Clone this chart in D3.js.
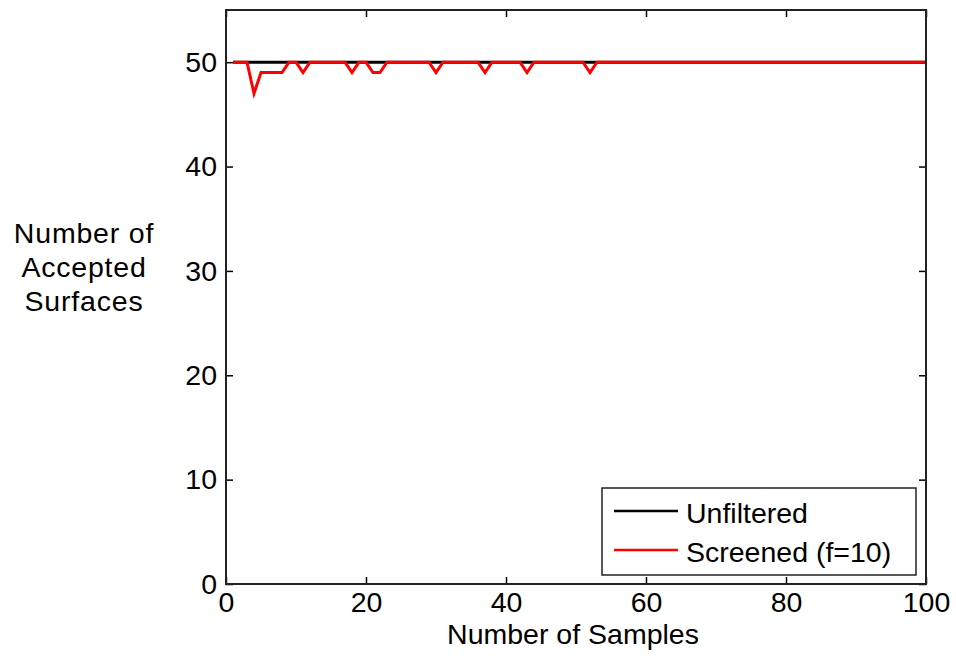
<!DOCTYPE html>
<html>
<head>
<meta charset="utf-8">
<script src="https://cdn.jsdelivr.net/npm/d3@7"></script>
<style>
  body { margin: 0; background: #fff; }
  text { font-family: "Liberation Sans", Arial, sans-serif; fill: #000; }
</style>
</head>
<body>
<div id="chart"></div>
<script>
// samples 1..100
const samples = d3.range(1, 101);
const unfiltered = samples.map(() => 50);
// screened: 50 everywhere except a few dips
const screenedDips = [
  {x: 4, v: 47}, {x: 5, v: 49}, {x: 6, v: 49}, {x: 7, v: 49}, {x: 8, v: 49},
  {x: 11, v: 49}, {x: 18, v: 49}, {x: 21, v: 49}, {x: 22, v: 49},
  {x: 30, v: 49}, {x: 37, v: 49}, {x: 43, v: 49}, {x: 52, v: 49}
];
const screened = samples.map(s => {
  const d = screenedDips.find(p => p.x === s);
  return d ? d.v : 50;
});
const xTicks = [0, 20, 40, 60, 80, 100];
const yTicks = [0, 10, 20, 30, 40, 50];
const seriesNames = ["Unfiltered", "Screened (f=10)"];
const seriesColors = ["#000000", "#ff0000"];

const W = 956, H = 659;
const m = {left: 226, right: 30, top: 10, bottom: 75};

const svg = d3.select('#chart').append('svg')
  .attr('width', W).attr('height', H);

const x = d3.scaleLinear().domain([0, 100]).range([m.left, W - m.right]);
const y = d3.scaleLinear().domain([0, 55]).range([H - m.bottom, m.top]);

const fs = 28.5;
const tickLen = 7;

// axes: inward ticks on all four sides
svg.append('g')
  .attr('transform', `translate(0,${y(0)})`)
  .call(d3.axisBottom(x).tickValues(xTicks).tickSizeInner(-tickLen).tickSizeOuter(0).tickPadding(8))
  .call(g => g.select('.domain').remove())
  .call(g => g.selectAll('text').attr('font-size', fs).attr('font-family', 'Liberation Sans, Arial, sans-serif'));

svg.append('g')
  .attr('transform', `translate(0,${y(55)})`)
  .call(d3.axisTop(x).tickValues(xTicks).tickSizeInner(-tickLen).tickSizeOuter(0).tickFormat(''))
  .call(g => g.select('.domain').remove());

svg.append('g')
  .attr('transform', `translate(${x(0)},0)`)
  .call(d3.axisLeft(y).tickValues(yTicks).tickSizeInner(-tickLen).tickSizeOuter(0).tickPadding(9))
  .call(g => g.select('.domain').remove())
  .call(g => g.selectAll('text').attr('font-size', fs).attr('font-family', 'Liberation Sans, Arial, sans-serif'));

svg.append('g')
  .attr('transform', `translate(${x(100)},0)`)
  .call(d3.axisRight(y).tickValues(yTicks).tickSizeInner(-tickLen).tickSizeOuter(0).tickFormat(''))
  .call(g => g.select('.domain').remove());

svg.selectAll('.tick line').attr('stroke', '#000').attr('stroke-width', 1.5);

// lines
const line = d3.line().x((d, i) => x(samples[i])).y(d => y(d));
[unfiltered, screened].forEach((s, i) => {
  svg.append('path')
    .datum(s)
    .attr('d', line)
    .attr('fill', 'none')
    .attr('stroke', seriesColors[i])
    .attr('stroke-width', 3)
    .attr('stroke-linejoin', 'miter');
});

// frame
svg.append('rect')
  .attr('x', x(0)).attr('y', y(55))
  .attr('width', x(100) - x(0)).attr('height', y(0) - y(55))
  .attr('fill', 'none').attr('stroke', '#222').attr('stroke-width', 2);

// axis labels
svg.append('text')
  .attr('x', (x(0) + x(100)) / 2 - 3).attr('y', 644)
  .attr('text-anchor', 'middle').attr('font-size', fs)
  .text('Number of Samples');

const ylab = ['Number of', 'Accepted', 'Surfaces'];
svg.append('g').selectAll('text').data(ylab).enter().append('text')
  .attr('x', 84).attr('y', (d, i) => 243 + i * 34)
  .attr('text-anchor', 'middle').attr('font-size', fs)
  .attr('letter-spacing', 0.8)
  .text(d => d);

// legend
const lg = svg.append('g');
lg.append('rect')
  .attr('x', 602).attr('y', 488).attr('width', 314).attr('height', 87)
  .attr('fill', '#fff').attr('stroke', '#222').attr('stroke-width', 1.5);
seriesNames.forEach((n, i) => {
  const ly = 511 + i * 39;
  lg.append('line')
    .attr('x1', 614).attr('x2', 678).attr('y1', ly).attr('y2', ly)
    .attr('stroke', seriesColors[i]).attr('stroke-width', 2.5);
  lg.append('text')
    .attr('x', 686).attr('y', ly + 12)
    .attr('font-size', fs)
    .text(n);
});
</script>
</body>
</html>
